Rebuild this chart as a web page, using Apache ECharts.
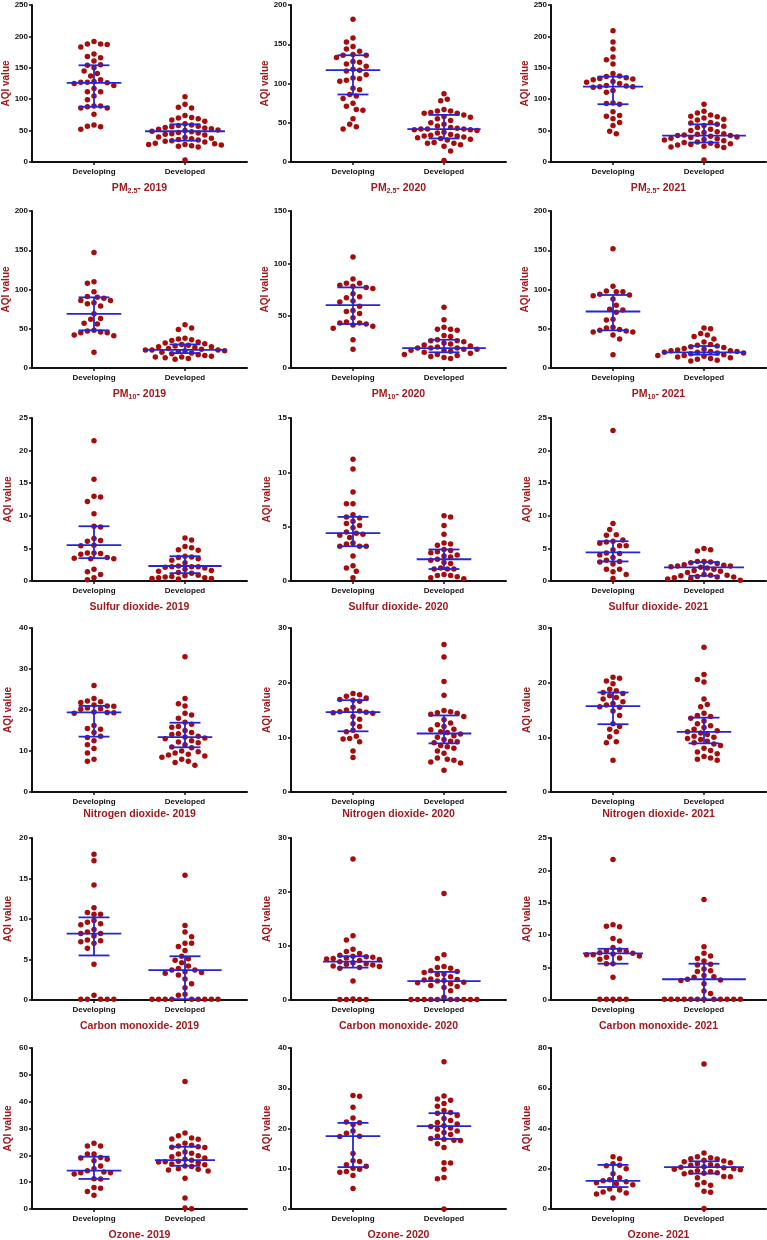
<!DOCTYPE html>
<html>
<head>
<meta charset="utf-8">
<script src="https://cdn.jsdelivr.net/npm/echarts@6/dist/echarts.min.js"></script>
<style>
  html, body { margin: 0; padding: 0; background: #fff; }
  #chart { width: 767px; height: 1240px; }
</style>
</head>
<body>
<div id="chart"></div>
<script>
const groups = ['Developing', 'Developed'];
const years = ['2019', '2020', '2021'];

// y axis ranges per pollutant (one per year)
const pm25_yMax = [250, 200, 250], pm25_yStep = [50, 50, 50];
const pm10_yMax = [200, 150, 200], pm10_yStep = [50, 50, 50];
const so2_yMax = [25, 15, 25], so2_yStep = [5, 5, 5];
const no2_yMax = [40, 30, 30], no2_yStep = [10, 10, 10];
const co_yMax = [20, 30, 25], co_yStep = [5, 10, 5];
const o3_yMax = [60, 40, 80], o3_yStep = [10, 10, 20];

// median / quartiles, [year][developing, developed]
const pm25_median = [[126, 49], [117, 42], [120, 42]];
const pm25_q1 = [[88, 34], [86, 30], [92, 31]];
const pm25_q3 = [[154, 60], [136, 60], [136, 60]];
const pm10_median = [[69, 23], [60, 19], [72, 20]];
const pm10_q1 = [[48, 19], [42, 15], [48, 17]];
const pm10_q3 = [[90, 30], [77, 27], [93, 28]];
const so2_median = [[5.5, 2.3], [4.4, 2.0], [4.4, 2.1]];
const so2_q1 = [[3.5, 1.2], [3.2, 1.1], [3.0, 0.8]];
const so2_q3 = [[8.4, 3.8], [5.9, 2.9], [6.1, 2.9]];
const no2_median = [[19.4, 13.4], [14.6, 10.7], [15.7, 11.0]];
const no2_q1 = [[13.5, 10.9], [11.1, 8.9], [12.4, 8.9]];
const no2_q3 = [[21.0, 16.9], [16.8, 14.0], [18.2, 13.6]];
const co_median = [[8.2, 3.7], [7.1, 3.5], [7.2, 3.2]];
const co_q1 = [[5.5, 0.1], [6.0, 0.1], [5.6, 0.1]];
const co_q3 = [[10.2, 5.4], [8.1, 5.2], [7.9, 5.6]];
const o3_median = [[14.3, 18.2], [18.1, 20.6], [14.0, 20.8]];
const o3_q1 = [[11.2, 16.1], [10.4, 17.4], [10.9, 17.6]];
const o3_q3 = [[19.5, 23.2], [21.4, 23.8], [21.9, 23.7]];

// individual AQI values
const pm25_2019_developing = [192, 188, 188, 187, 183, 172, 168, 166, 161, 155, 154, 150, 145, 141, 137, 131, 128, 127, 127, 126, 125, 122, 117, 112, 112, 105, 99, 89, 89, 88, 86, 86, 76, 59, 57, 56, 52];
const pm25_2019_developed = [104, 92, 87, 86, 74, 71, 70, 69, 67, 65, 61, 59, 58, 57, 56, 55, 54, 53, 52, 51, 50, 49, 48, 47, 46, 45, 44, 43, 40, 39, 38, 37, 36, 35, 34, 33, 32, 30, 29, 28, 28, 27, 26, 25, 24, 3];
const pm25_2020_developing = [182, 158, 153, 147, 144, 141, 137, 136, 136, 133, 128, 127, 125, 122, 118, 117, 116, 111, 107, 106, 104, 103, 94, 92, 86, 84, 81, 75, 71, 67, 66, 55, 48, 45, 42];
const pm25_2020_developed = [87, 80, 78, 67, 65, 65, 63, 62, 62, 60, 58, 57, 55, 53, 50, 48, 46, 44, 43, 42, 42, 42, 41, 41, 40, 38, 37, 35, 34, 33, 33, 32, 31, 30, 29, 28, 25, 24, 24, 22, 20, 14, 2];
const pm25_2021_developing = [209, 191, 180, 167, 163, 156, 141, 137, 136, 134, 133, 132, 131, 128, 127, 125, 122, 121, 120, 120, 119, 114, 111, 94, 93, 92, 80, 74, 73, 69, 63, 58, 49, 45];
const pm25_2021_developed = [92, 81, 78, 75, 73, 72, 70, 68, 67, 63, 62, 60, 58, 57, 55, 52, 50, 48, 47, 45, 44, 43, 42, 42, 41, 40, 39, 38, 37, 36, 35, 34, 32, 31, 30, 29, 28, 27, 26, 25, 24, 23, 3];

const pm10_2019_developing = [147, 110, 108, 97, 91, 90, 89, 86, 86, 83, 82, 79, 69, 63, 62, 57, 56, 48, 47, 46, 45, 45, 42, 41, 20];
const pm10_2019_developed = [55, 51, 49, 38, 37, 36, 35, 33, 32, 31, 30, 29, 28, 27, 27, 26, 25, 24, 23, 23, 23, 22, 22, 21, 20, 19, 18, 17, 16, 15, 14, 14, 13, 12, 11];
const pm10_2020_developing = [106, 85, 81, 81, 79, 78, 77, 76, 71, 68, 67, 64, 63, 59, 55, 54, 52, 48, 44, 43, 43, 42, 41, 40, 38, 27, 18];
const pm10_2020_developed = [58, 46, 39, 37, 37, 36, 31, 30, 27, 26, 26, 25, 24, 23, 22, 21, 20, 19, 19, 19, 18, 18, 17, 17, 16, 15, 14, 13, 13, 12, 11, 10, 9];
const pm10_2021_developing = [152, 104, 98, 97, 97, 94, 93, 92, 88, 80, 75, 74, 71, 62, 61, 52, 51, 49, 48, 47, 46, 46, 42, 37, 17];
const pm10_2021_developed = [51, 50, 44, 42, 40, 37, 33, 30, 29, 28, 27, 26, 25, 24, 23, 22, 22, 21, 21, 20, 20, 19, 19, 18, 17, 16, 16, 15, 14, 13, 12, 11, 10, 9];

const so2_2019_developing = [21.5, 15.6, 13.0, 12.9, 12.2, 10.3, 8.4, 8.3, 6.5, 6.2, 6.1, 5.5, 5.4, 4.3, 4.3, 4.2, 4.1, 3.6, 3.5, 3.4, 3.4, 1.8, 1.4, 1.0, 0.5, 0.2];
const so2_2019_developed = [6.6, 6.3, 5.3, 5.1, 4.8, 4.7, 3.8, 3.7, 3.6, 3.4, 3.2, 2.8, 2.3, 2.2, 2.2, 2.2, 2.1, 2.0, 1.8, 1.6, 1.5, 1.3, 1.2, 0.9, 0.8, 0.7, 0.6, 0.5, 0.5, 0.4, 0.4, 0.3];
const so2_2020_developing = [11.2, 10.3, 8.2, 7.1, 7.1, 6.1, 5.9, 5.8, 5.5, 5.3, 5.1, 4.9, 4.5, 4.4, 4.3, 4.2, 4.0, 3.5, 3.4, 3.2, 3.2, 3.2, 2.3, 1.4, 1.2, 0.9, 0.3];
const so2_2020_developed = [6.0, 5.9, 5.1, 4.3, 3.5, 3.4, 3.3, 2.9, 2.8, 2.7, 2.6, 2.4, 2.3, 2.2, 2.0, 1.9, 1.7, 1.6, 1.2, 1.1, 1.1, 1.1, 0.6, 0.5, 0.5, 0.4, 0.3, 0.2];
const so2_2021_developing = [23.1, 8.8, 7.9, 7.1, 7.0, 6.3, 6.1, 6.0, 5.8, 5.4, 5.4, 4.8, 4.3, 4.2, 4.0, 3.6, 3.2, 3.0, 2.9, 2.6, 1.8, 1.8, 1.4, 1.0, 0.4];
const so2_2021_developed = [5.0, 4.8, 4.6, 3.0, 3.0, 2.9, 2.8, 2.7, 2.5, 2.4, 2.3, 2.3, 2.2, 2.1, 2.0, 1.8, 1.6, 1.5, 1.3, 1.0, 0.9, 0.9, 0.8, 0.7, 0.6, 0.6, 0.5, 0.4, 0.3, 0.1];

const no2_2019_developing = [26.0, 22.8, 22.2, 22.0, 21.8, 21.2, 21.0, 20.9, 20.5, 20.3, 20.2, 19.5, 19.4, 19.3, 19.2, 16.2, 15.5, 15.3, 14.5, 13.6, 13.3, 12.5, 11.5, 10.6, 9.5, 8.0, 7.5];
const no2_2019_developed = [33.0, 22.8, 21.5, 21.0, 19.2, 18.8, 18.0, 17.0, 16.5, 16.0, 15.8, 15.0, 14.5, 14.2, 14.0, 13.6, 13.4, 13.2, 13.0, 12.5, 12.2, 12.0, 11.5, 11.0, 10.8, 10.0, 9.8, 9.5, 9.2, 9.0, 8.8, 8.5, 8.0, 7.5, 7.2, 6.5];
const no2_2020_developing = [18.0, 17.8, 17.5, 17.2, 16.9, 16.8, 16.6, 15.5, 15.0, 14.8, 14.7, 14.6, 14.5, 14.4, 13.8, 13.3, 12.5, 12.0, 11.3, 11.0, 10.2, 9.8, 9.7, 9.2, 7.5, 6.3];
const no2_2020_developed = [27.0, 24.7, 20.2, 17.7, 14.9, 14.7, 14.5, 14.4, 14.2, 13.8, 13.2, 12.6, 12.3, 12.0, 11.5, 11.4, 11.0, 10.9, 10.6, 10.3, 10.0, 9.6, 9.3, 9.2, 9.0, 8.5, 8.3, 8.0, 7.5, 7.1, 6.2, 6.0, 5.8, 5.5, 5.3, 4.0];
const no2_2021_developing = [21.0, 20.8, 20.3, 19.8, 18.8, 18.5, 18.2, 18.0, 17.6, 17.3, 17.0, 16.5, 16.2, 15.9, 15.6, 15.5, 14.8, 14.0, 12.5, 12.0, 11.5, 11.0, 10.1, 9.2, 9.0, 5.8];
const no2_2021_developed = [26.5, 21.5, 20.6, 20.1, 17.0, 16.0, 15.6, 14.4, 14.0, 13.8, 13.5, 13.0, 12.5, 12.1, 11.8, 11.5, 11.2, 11.0, 10.8, 10.5, 10.2, 10.0, 9.8, 9.6, 9.3, 9.0, 8.8, 8.5, 8.0, 7.6, 7.3, 7.0, 6.5, 6.2, 6.0, 5.8];

const co_2019_developing = [18.0, 17.2, 14.2, 11.4, 10.8, 10.6, 10.6, 9.8, 9.6, 9.4, 9.3, 8.7, 8.4, 8.2, 8.2, 7.9, 7.4, 7.3, 7.2, 7.0, 6.4, 4.4, 0.6, 0.1, 0.1, 0.1, 0.1, 0.1];
const co_2019_developed = [15.4, 9.2, 8.4, 7.8, 7.0, 7.0, 6.6, 6.1, 5.4, 5.1, 4.9, 4.6, 4.2, 3.9, 3.7, 3.7, 3.5, 3.4, 3.3, 3.1, 2.6, 2.0, 1.5, 0.7, 0.6, 0.1, 0.1, 0.1, 0.1, 0.1, 0.1, 0.1, 0.1, 0.1];
const co_2020_developing = [26.1, 11.9, 11.1, 9.4, 9.0, 8.6, 8.3, 8.1, 8.0, 7.9, 7.8, 7.7, 7.6, 7.5, 7.3, 7.1, 6.9, 6.7, 6.6, 6.5, 6.3, 6.2, 6.0, 5.9, 3.5, 0.2, 0.1, 0.1, 0.1, 0.1];
const co_2020_developed = [19.7, 8.4, 7.7, 6.2, 6.0, 5.9, 5.4, 5.3, 5.1, 4.8, 4.7, 4.3, 3.9, 3.8, 3.7, 3.6, 3.5, 3.3, 3.2, 3.0, 2.7, 2.5, 2.3, 1.7, 0.5, 0.1, 0.1, 0.1, 0.1, 0.1, 0.1, 0.1, 0.1, 0.1, 0.1];
const co_2021_developing = [21.7, 11.6, 11.4, 11.3, 9.5, 9.1, 8.1, 7.7, 7.6, 7.5, 7.3, 7.2, 7.1, 7.0, 7.0, 6.8, 6.6, 6.5, 6.3, 5.6, 5.6, 3.5, 0.1, 0.1, 0.1, 0.1, 0.1];
const co_2021_developed = [15.5, 8.2, 7.2, 6.8, 6.4, 6.0, 5.5, 5.4, 4.8, 4.5, 4.4, 3.8, 3.6, 3.5, 3.2, 3.1, 3.0, 2.5, 1.4, 1.0, 0.1, 0.1, 0.1, 0.1, 0.1, 0.1, 0.1, 0.1, 0.1, 0.1, 0.1, 0.1];

const o3_2019_developing = [24.5, 23.5, 23.5, 20.5, 20.5, 19.2, 19.0, 18.5, 18.0, 16.0, 15.0, 14.3, 13.8, 13.5, 13.5, 13.0, 11.3, 11.2, 8.0, 7.7, 6.5, 5.1];
const o3_2019_developed = [47.5, 28.3, 27.3, 26.5, 26.1, 26.0, 24.5, 23.8, 23.5, 23.2, 23.0, 22.9, 21.2, 20.8, 20.5, 19.8, 19.5, 19.0, 18.5, 18.2, 17.8, 17.6, 17.5, 17.2, 16.8, 16.5, 16.0, 15.8, 15.0, 14.8, 14.5, 14.2, 11.5, 4.1, 0.4, 0.1];
const o3_2020_developing = [28.2, 28.0, 25.3, 22.6, 21.6, 21.4, 21.0, 19.4, 18.8, 18.1, 18.0, 13.8, 12.0, 11.8, 11.0, 10.6, 10.1, 9.9, 9.3, 9.1, 8.3, 5.1];
const o3_2020_developed = [36.6, 28.1, 27.3, 27.0, 26.2, 25.5, 24.5, 24.0, 23.8, 23.2, 22.5, 22.0, 21.5, 21.1, 20.7, 20.5, 20.1, 19.8, 19.4, 19.0, 18.5, 18.1, 17.5, 17.3, 17.1, 17.0, 16.2, 15.3, 11.5, 11.4, 9.9, 7.8, 7.5, 0.0];
const o3_2021_developing = [26.0, 25.0, 22.5, 21.8, 21.5, 20.0, 17.5, 15.5, 14.5, 14.0, 13.5, 13.0, 12.5, 12.0, 10.0, 9.5, 8.5, 8.0, 7.5, 5.5];
const o3_2021_developed = [72.0, 27.8, 26.0, 25.5, 25.0, 24.8, 24.2, 23.8, 23.5, 23.0, 22.5, 22.0, 21.8, 21.5, 21.0, 20.8, 20.5, 20.0, 19.8, 19.5, 19.0, 18.5, 18.2, 18.0, 17.8, 17.5, 16.2, 16.0, 15.5, 13.2, 12.0, 11.8, 8.8, 8.3, 0.3];

const pollutants = [
  { name: 'PM', sub: '2.5', yMax: pm25_yMax, yStep: pm25_yStep, median: pm25_median, q1: pm25_q1, q3: pm25_q3,
    values: [[pm25_2019_developing, pm25_2019_developed], [pm25_2020_developing, pm25_2020_developed], [pm25_2021_developing, pm25_2021_developed]] },
  { name: 'PM', sub: '10', yMax: pm10_yMax, yStep: pm10_yStep, median: pm10_median, q1: pm10_q1, q3: pm10_q3,
    values: [[pm10_2019_developing, pm10_2019_developed], [pm10_2020_developing, pm10_2020_developed], [pm10_2021_developing, pm10_2021_developed]] },
  { name: 'Sulfur dioxide', yMax: so2_yMax, yStep: so2_yStep, median: so2_median, q1: so2_q1, q3: so2_q3,
    values: [[so2_2019_developing, so2_2019_developed], [so2_2020_developing, so2_2020_developed], [so2_2021_developing, so2_2021_developed]] },
  { name: 'Nitrogen dioxide', yMax: no2_yMax, yStep: no2_yStep, median: no2_median, q1: no2_q1, q3: no2_q3,
    values: [[no2_2019_developing, no2_2019_developed], [no2_2020_developing, no2_2020_developed], [no2_2021_developing, no2_2021_developed]] },
  { name: 'Carbon monoxide', yMax: co_yMax, yStep: co_yStep, median: co_median, q1: co_q1, q3: co_q3,
    values: [[co_2019_developing, co_2019_developed], [co_2020_developing, co_2020_developed], [co_2021_developing, co_2021_developed]] },
  { name: 'Ozone', yMax: o3_yMax, yStep: o3_yStep, median: o3_median, q1: o3_q1, q3: o3_q3,
    values: [[o3_2019_developing, o3_2019_developed], [o3_2020_developing, o3_2020_developed], [o3_2021_developing, o3_2021_developed]] },
];

// layout
const RED = '#a11a1e', DOT = '#a50d0d', BLUE = '#2525d8', INK = '#111';
const FONT = '"Liberation Sans", Arial, sans-serif';
const colLeft = [32, 291, 551];
const rowTop = [5, 211, 418, 628, 838, 1048];
const rowZero = [162, 368, 581, 792, 1000, 1209];
const titleY = [188, 394, 607, 814, 1026, 1235];
const catGap = 91, sidePad = 62;
const xMin = 1 - sidePad / catGap, xMax = 2 + sidePad / catGap;
const plotW = catGap + 2 * sidePad;
const dotPx = 6.6, whisker = 0.17;

// beeswarm: each dot goes to the nearest free slot (half-dot steps) left or right of the category
function swarm(values, pxPerUnit, cat) {
  const sorted = values.slice().sort((a, b) => b - a);
  const placed = [];
  sorted.forEach((v, n) => {
    const y = v * pxPerUnit;
    const free = x => placed.every(p => (p.x - x) ** 2 + (p.y - y) ** 2 >= dotPx * dotPx * 0.92);
    let x = 0;
    if (!free(0)) {
      for (let m = 1; m < 60; m++) {
        const a = (n % 2 ? 1 : -1) * m * dotPx / 2;
        if (free(a)) { x = a; break; }
        if (free(-a)) { x = -a; break; }
      }
    }
    placed.push({ x, y, v });
  });
  let maxHalf = 0;
  const pts = placed.map(p => {
    maxHalf = Math.max(maxHalf, Math.abs(p.x) / catGap);
    return [cat + p.x / catGap, p.v];
  });
  return { pts, maxHalf };
}

function renderStats(params, api) {
  const c = api.value(0), med = api.value(1), q1 = api.value(2), q3 = api.value(3), hw = api.value(4);
  const seg = (x1, y1, x2, y2) => {
    const a = api.coord([x1, y1]), b = api.coord([x2, y2]);
    return { type: 'line', shape: { x1: a[0], y1: a[1], x2: b[0], y2: b[1] }, style: { stroke: BLUE, lineWidth: 1.8 } };
  };
  return {
    type: 'group',
    children: [
      seg(c, q1, c, q3),
      seg(c - whisker, q1, c + whisker, q1),
      seg(c - whisker, q3, c + whisker, q3),
      seg(c - hw, med, c + hw, med),
    ],
  };
}

const option = { animation: false, backgroundColor: '#fff', grid: [], xAxis: [], yAxis: [], series: [], graphic: [] };

pollutants.forEach((p, r) => {
  years.forEach((year, c) => {
    const k = option.grid.length;
    const top = rowTop[r], h = rowZero[r] - top, left = colLeft[c];
    option.grid.push({ left: left, top: top, width: plotW, height: h, outerBoundsMode: 'none' });
    option.xAxis.push({
      gridIndex: k, type: 'value', min: xMin, max: xMax,
      axisLine: { onZero: false, lineStyle: { color: INK, width: 2 } },
      axisTick: { show: true, customValues: [1, 2], length: 3, lineStyle: { color: INK, width: 1.5 } },
      axisLabel: {
        customValues: [1, 2], formatter: v => groups[Math.round(v) - 1],
        fontSize: 8, fontWeight: 'bold', color: INK, margin: 6, fontFamily: FONT,
      },
      splitLine: { show: false },
    });
    option.yAxis.push({
      gridIndex: k, type: 'value', min: 0, max: p.yMax[c], interval: p.yStep[c],
      name: 'AQI value', nameLocation: 'middle', nameGap: 19,
      nameTextStyle: { color: RED, fontSize: 10, fontWeight: 'bold', fontFamily: FONT },
      axisLine: { show: true, onZero: false, lineStyle: { color: INK, width: 2 } },
      axisTick: { show: true, length: 3, lineStyle: { color: INK, width: 1.5 } },
      axisLabel: { fontSize: 8, fontWeight: 'bold', color: INK, margin: 4, fontFamily: FONT },
      splitLine: { show: false },
    });

    const pxPerUnit = h / p.yMax[c];
    const halves = [];
    p.values[c].forEach((vals, g) => {
      const sw = swarm(vals, pxPerUnit, g + 1);
      halves.push(Math.min(0.46, Math.max(0.3, sw.maxHalf + 0.04)));
      option.series.push({
        type: 'scatter', xAxisIndex: k, yAxisIndex: k, data: sw.pts,
        symbolSize: 5.5, itemStyle: { color: DOT, opacity: 1 }, silent: true, z: 2,
      });
    });
    option.series.push({
      type: 'custom', xAxisIndex: k, yAxisIndex: k, silent: true, z: 3,
      encode: { x: 0, y: 1 },
      data: [0, 1].map(g => [g + 1, p.median[c][g], p.q1[c][g], p.q3[c][g], halves[g]]),
      renderItem: renderStats,
    });

    const text = p.sub ? '{t|' + p.name + '}{s|' + p.sub + '}{t|- ' + year + '}' : '{t|' + p.name + '- ' + year + '}';
    option.graphic.push({
      type: 'text', x: left + plotW / 2, y: titleY[r], silent: true,
      style: {
        text: text, align: 'center', verticalAlign: 'middle',
        fill: RED, fontSize: 10.5, fontWeight: 'bold', fontFamily: FONT,
        rich: {
          t: { fill: RED, fontSize: 10.5, fontWeight: 'bold', fontFamily: FONT, lineHeight: 14 },
          s: { fill: RED, fontSize: 7, fontWeight: 'bold', fontFamily: FONT, lineHeight: 7, verticalAlign: 'bottom' },
        },
      },
    });
  });
});

const chart = echarts.init(document.getElementById('chart'));
chart.setOption(option);
</script>
</body>
</html>
